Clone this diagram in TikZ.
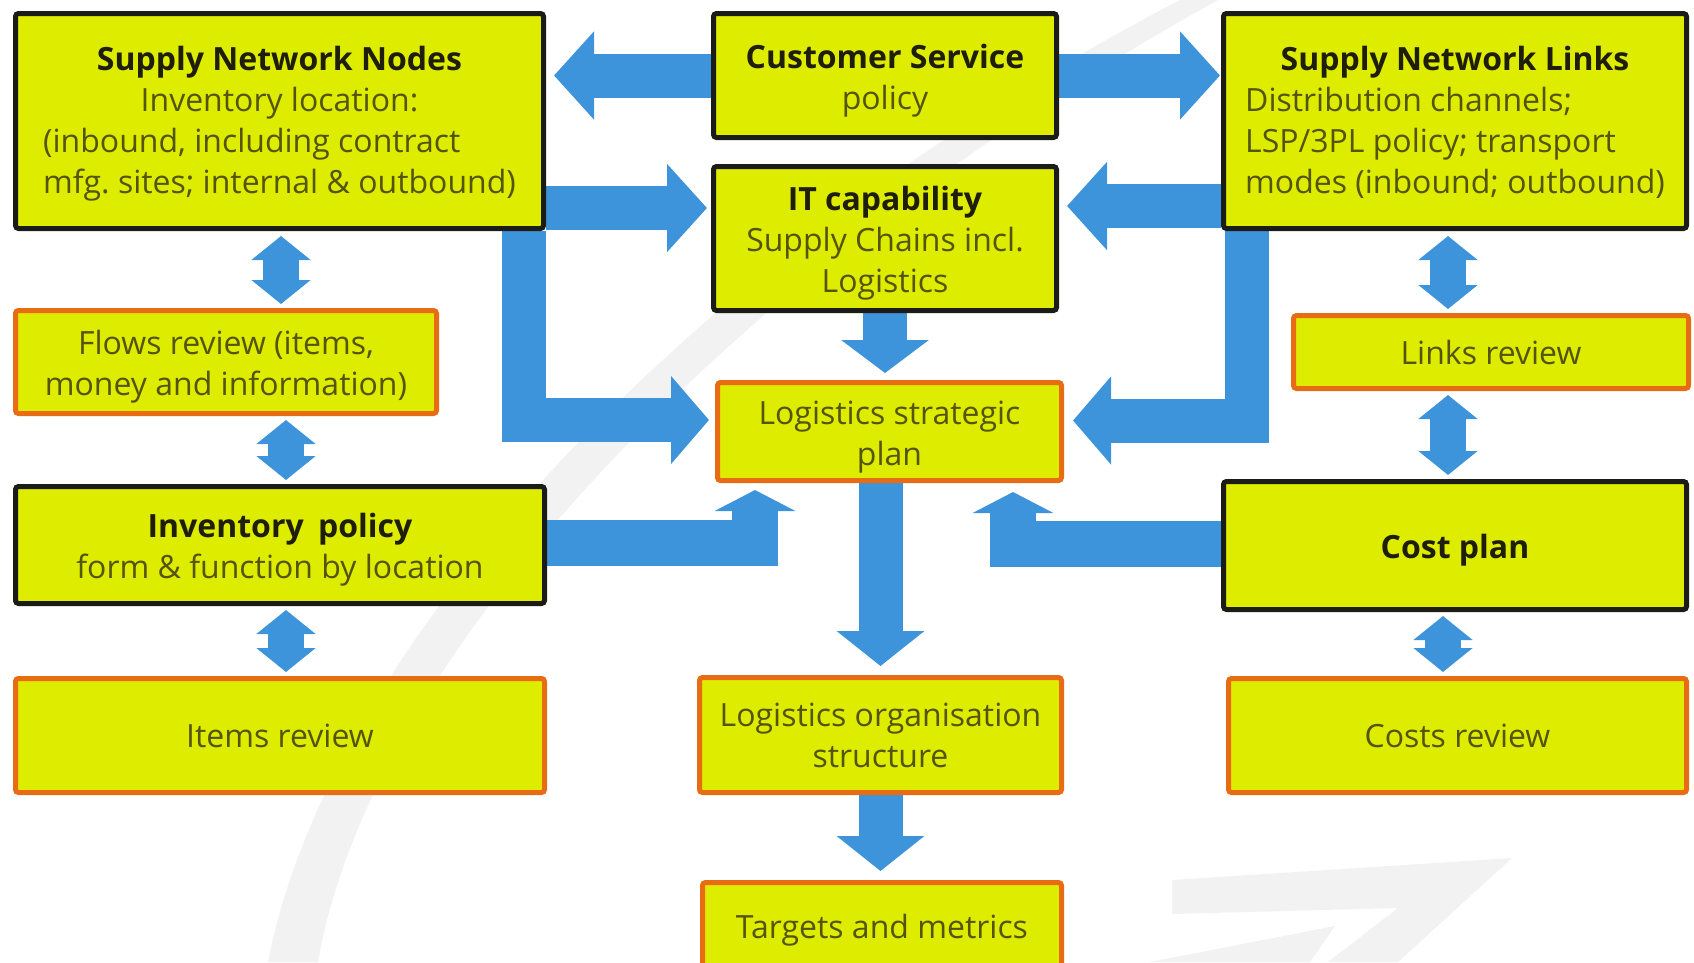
\documentclass[tikz,border=0pt]{standalone}
\usepackage{fontspec}
\setmainfont{Open Sans}
\usetikzlibrary{arrows.meta,backgrounds}

\definecolor{BoxFill}{RGB}{222,236,0}
\definecolor{PlanEdge}{RGB}{28,28,22}
\definecolor{ReviewEdge}{RGB}{232,108,20}
\definecolor{FlowBlue}{RGB}{62,148,218}
\definecolor{TitleInk}{RGB}{30,30,10}
\definecolor{BodyInk}{RGB}{84,84,10}
\definecolor{MarkGray}{RGB}{242,242,242}

\newcommand\BoxFont{\fontsize{32}{41}\selectfont}
\newcommand\TopStrut{\rule{0pt}{34pt}}
\newcommand\BoxTitle[1]{{\TopStrut\bfseries\color{TitleInk}#1}}

\begin{document}
\begin{tikzpicture}
    [x=1pt, y=-1pt,
    PlanNode/.style={rectangle, rounded corners=3pt, draw=PlanEdge, line width=5pt,
      fill=BoxFill, text=BodyInk, align=center, inner sep=0pt, font=\BoxFont},
    ReviewNode/.style={PlanNode, draw=ReviewEdge},
    FlowArrow/.style={draw=FlowBlue, line width=44pt, -{Triangle[width=86pt,length=#1]}},
    FlowArrow/.default=40pt,
    UpArrow/.style={draw=FlowBlue, line width=46pt, -{Triangle[width=80pt,length=21pt]}},
    LinkArrow/.style={draw=FlowBlue, line width=36pt,
      {Triangle[width=58pt,length=24pt]}-{Triangle[width=58pt,length=24pt]}}]
     \useasboundingbox (0,0) rectangle (1694,962);
     \clip (0,0) rectangle (1694,962);
     % plan boxes (black edge)
     \node[PlanNode, minimum width=528pt, minimum height=215pt] (SupplyNodes) at (279.5,121)
       {\BoxTitle{Supply Network Nodes}\\Inventory location:\\
        \begin{tabular}[t]{@{}l@{}}(inbound, including contract\\mfg.\ sites; internal \& outbound)\end{tabular}};
     \node[PlanNode, minimum width=343pt, minimum height=124pt] (CustomerService) at (885,75.5)
       {\BoxTitle{Customer Service}\\policy};
     \node[PlanNode, minimum width=463pt, minimum height=215pt] (SupplyLinks) at (1455,121)
       {\BoxTitle{Supply Network Links}\\
        \begin{tabular}[t]{@{}l@{}}Distribution channels;\\LSP/3PL policy; transport\\modes (inbound; outbound)\end{tabular}};
     \node[PlanNode, minimum width=343pt, minimum height=144pt] (ItCapability) at (885,238.5)
       {\BoxTitle{IT capability}\\Supply Chains incl.\\Logistics};
     \node[PlanNode, minimum width=529pt, minimum height=117pt] (InvPolicy) at (280,545)
       {\BoxTitle{Inventory\hspace{0.45em}policy}\\form \& function by location};
     \node[PlanNode, minimum width=463pt, minimum height=128pt] (CostPlan) at (1455,545.5)
       {\BoxTitle{Cost plan}};
     % review boxes (orange edge)
     \node[ReviewNode, minimum width=421pt, minimum height=103pt] (FlowsReview) at (226,362)
       {\TopStrut Flows review (items,\\money and information)};
     \node[ReviewNode, minimum width=395pt, minimum height=73pt] (LinksReview) at (1491,352)
       {Links review};
     \node[ReviewNode, minimum width=344pt, minimum height=98pt] (StrategicPlan) at (889.5,431.5)
       {\TopStrut Logistics strategic\\plan};
     \node[ReviewNode, minimum width=529pt, minimum height=114pt] (ItemsReview) at (280,735.5)
       {Items review};
     \node[ReviewNode, minimum width=362pt, minimum height=115pt] (LogOrg) at (880.5,735)
       {Logistics organisation\\structure};
     \node[ReviewNode, minimum width=458pt, minimum height=114pt] (CostsReview) at (1457.5,735.5)
       {Costs review};
     \node[ReviewNode, minimum width=359pt, minimum height=95pt] (Targets) at (882,930)
       {Targets and metrics};
     % faint logo behind everything
     \begin{scope}[on background layer]
       \fill[MarkGray] (268,962) .. controls (330,640) and (700,250) .. (1180,0)
         -- (1218,0) .. controls (740,265) and (372,650) .. (318,962) -- cycle;
       \fill[MarkGray] (1172,880) -- (1512,858) -- (1398,962) -- (1328,962)
         -- (1398,908) -- (1172,914) -- cycle;
       \fill[MarkGray] (1150,962) -- (1335,926) -- (1310,962) -- cycle;
     \end{scope}
     % block arrows
     \begin{scope}[on background layer]
       \coordinate (NodesOut) at ([yshift=-87pt]SupplyNodes.east);
       \coordinate (LinksOut) at ([yshift=-85pt]SupplyLinks.west);
       \coordinate (InvOut) at ([yshift=2pt]InvPolicy.east);
       \coordinate (CostOut) at ([yshift=1.5pt]CostPlan.west);
       \draw[FlowArrow, shorten >=8pt] (CustomerService.west) -- (CustomerService.west -| SupplyNodes.east);
       \draw[FlowArrow, shorten >=1pt] (CustomerService.east) -- (CustomerService.east -| SupplyLinks.west);
       \draw[FlowArrow, shorten >=4pt] (NodesOut) -- (NodesOut -| ItCapability.west);
       \draw[FlowArrow, shorten >=8pt] (LinksOut) -- (LinksOut -| ItCapability.east);
       \draw[FlowArrow=38pt, shorten >=6pt] ([xshift=-22pt]SupplyNodes.south east) |- ([yshift=11.5pt]StrategicPlan.west);
       \draw[FlowArrow=38pt, shorten >=9pt] ([xshift=26pt]SupplyLinks.south west) |- ([yshift=11pt]StrategicPlan.east);
       \draw[FlowArrow=33pt, shorten >=7pt] (ItCapability.south) -- (StrategicPlan.north -| ItCapability.south);
       \draw[FlowArrow=35pt, shorten >=9pt] (LogOrg.north |- StrategicPlan.south) -- (LogOrg.north);
       \draw[FlowArrow=35pt, shorten >=9pt] (LogOrg.south) -- (LogOrg.south |- Targets.north);
       \draw[UpArrow, shorten >=7pt] (InvOut) -| ([xshift=-134.5pt]StrategicPlan.south);
       \draw[UpArrow, shorten >=9pt] (CostOut) -| ([xshift=123.5pt]StrategicPlan.south);
       % two-way links to the reviews
       \draw[LinkArrow, shorten <=5pt, shorten >=4pt] ([xshift=1.5pt]SupplyNodes.south) -- ([xshift=1.5pt]SupplyNodes.south |- FlowsReview.north);
       \draw[LinkArrow, shorten <=4pt, shorten >=4pt] ([xshift=6pt]InvPolicy.north |- FlowsReview.south) -- ([xshift=6pt]InvPolicy.north);
       \draw[LinkArrow, shorten <=4pt, shorten >=4pt] ([xshift=6pt]InvPolicy.south) -- ([xshift=6pt]ItemsReview.north);
       \draw[LinkArrow, shorten <=5pt, shorten >=4pt] ([xshift=-7pt]SupplyLinks.south) -- ([xshift=-7pt]SupplyLinks.south |- LinksReview.north);
       \draw[LinkArrow, shorten <=4pt, shorten >=4pt] ([xshift=-7pt]CostPlan.north |- LinksReview.south) -- ([xshift=-7pt]CostPlan.north);
       \draw[LinkArrow, shorten <=4pt, shorten >=4pt] ([xshift=-12pt]CostPlan.south) -- ([xshift=-14.5pt]CostsReview.north);
     \end{scope}
\end{tikzpicture}
\end{document}
